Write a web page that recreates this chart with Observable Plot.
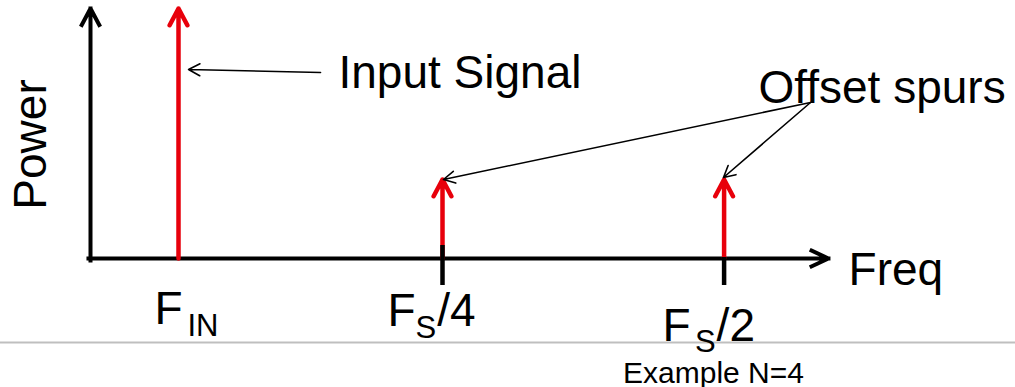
<!DOCTYPE html>
<html>
<head>
<meta charset="utf-8">
<script src="https://cdn.jsdelivr.net/npm/d3@7"></script>
<script src="https://cdn.jsdelivr.net/npm/@observablehq/plot@0.6"></script>
<style>
  html, body { margin: 0; padding: 0; background: #fff; }
  #chart svg { display: block; }
</style>
</head>
<body>
<div id="chart"></div>
<script>
// ---- Data (frequency in units of F_IN, power normalised to the input tone) ----
const toneNames  = ["F_IN", "F_S/4", "F_S/2"];
const toneFreq   = [1, 4, 7.2];
const tonePower  = [1.0, 0.316, 0.316];

const tickFreq   = [4, 7.2];
const tickTop    = [0.052, 0.004];
const tickBottom = [-0.108, -0.108];

const axisEndFreq  = 8.386;
const axisEndPower = 1.0;

// frequency-axis labels: main glyph, subscript, suffix
const labelMain   = ["F", "F", "F"];
const labelMainX  = [0.727, 3.375, 6.5];
const labelMainY  = [-0.26, -0.268, -0.328];
const labelSub    = ["IN", "S", "S"];
const labelSubX   = [1.102, 3.693, 6.87];
const labelSubY   = [-0.308, -0.318, -0.372];
const labelSuffix = ["/4", "/2"];
const labelSuffixX = [3.94, 7.115];
const labelSuffixY = [-0.268, -0.328];

// annotations
const annoText = ["Input Signal", "Offset spurs", "Freq"];
const annoX    = [2.818, 7.591, 8.614];
const annoY    = [0.684, 0.624, -0.104];

const pointerFromX = [2.614, 8.182, 8.182];
const pointerFromY = [0.744, 0.624, 0.624];
const pointerToX   = [1.114, 4.011, 7.193];
const pointerToY   = [0.756, 0.316, 0.324];

const yTitle = "Power";
const yTitleX = -0.511, yTitleY = 0.456;

const noteText = "Example N=4";
const noteX = 7.08, noteY = -0.496;

const separatorY = -0.336;

// ---- Tables ----
const tones = toneNames.map((n, i) => ({name: n, f: toneFreq[i], p: tonePower[i]}));
const ticks = tickFreq.map((f, i) => ({f, y1: tickBottom[i], y2: tickTop[i]}));
const mains = labelMain.map((t, i) => ({t, x: labelMainX[i], y: labelMainY[i]}));
const subs = labelSub.map((t, i) => ({t, x: labelSubX[i], y: labelSubY[i]}));
const suffixes = labelSuffix.map((t, i) => ({t, x: labelSuffixX[i], y: labelSuffixY[i]}));
const annos = annoText.map((t, i) => ({t, x: annoX[i], y: annoY[i]}));
const pointers = pointerFromX.map((x1, i) => ({x1, y1: pointerFromY[i], x2: pointerToX[i], y2: pointerToY[i]}));

const font = "'Liberation Sans', Arial, Helvetica, sans-serif";
const RED = "#e8000b";

const chart = Plot.plot({
  width: 1015,
  height: 387,
  margin: 0,
  style: {fontFamily: font, background: "#fff"},
  x: {domain: [-90 / 88, 925 / 88], axis: null},
  y: {domain: [-129 / 250, 258 / 250], axis: null},
  marks: [
    Plot.ruleY([separatorY], {stroke: "#bfbfbf", strokeWidth: 2}),
    // axes
    Plot.arrow([0], {x1: -0.023, x2: axisEndFreq, y1: 0, y2: 0, stroke: "black", strokeWidth: 4, headLength: 7, headAngle: 50, strokeLinecap: "square"}),
    Plot.arrow([0], {x1: 0, x2: 0, y1: -0.008, y2: axisEndPower, stroke: "black", strokeWidth: 4, headLength: 7, headAngle: 56, strokeLinecap: "square"}),
    // tones
    Plot.arrow(tones, {x1: "f", x2: "f", y1: 0, y2: "p", stroke: RED, strokeWidth: 4.5, headLength: 6.3, headAngle: 56}),
    Plot.ruleX(ticks, {x: "f", y1: "y1", y2: "y2", stroke: "black", strokeWidth: 4.5}),
    // annotation pointers
    Plot.arrow(pointers, {x1: "x1", y1: "y1", x2: "x2", y2: "y2", stroke: "black", strokeWidth: 1.6, headLength: 12, headAngle: 56}),
    // texts
    Plot.text(annos, {x: "x", y: "y", text: "t", textAnchor: "start", lineAnchor: "bottom", fontSize: 46, fill: "black"}),
    Plot.text([yTitle], {x: yTitleX, y: yTitleY, text: d => d, rotate: -90, textAnchor: "middle", lineAnchor: "bottom", fontSize: 46, fill: "black"}),
    Plot.text(mains, {x: "x", y: "y", text: "t", textAnchor: "start", lineAnchor: "bottom", fontSize: 46, fill: "black"}),
    Plot.text(subs, {x: "x", y: "y", text: "t", textAnchor: "start", lineAnchor: "bottom", fontSize: 31, fill: "black"}),
    Plot.text(suffixes, {x: "x", y: "y", text: "t", textAnchor: "start", lineAnchor: "bottom", fontSize: 46, fill: "black"}),
    Plot.text([noteText], {x: noteX, y: noteY, text: d => d, textAnchor: "middle", lineAnchor: "bottom", fontSize: 30, fill: "black"})
  ]
});
document.getElementById("chart").appendChild(chart);
</script>
</body>
</html>
